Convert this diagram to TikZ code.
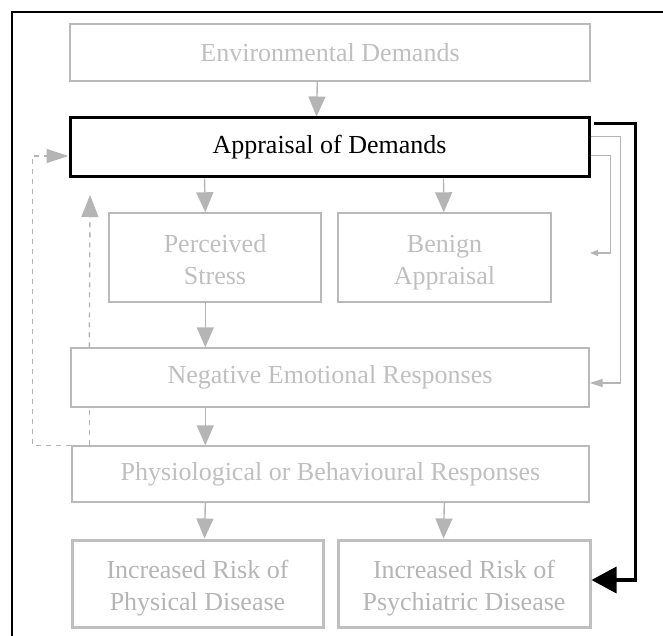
\documentclass[tikz,border=0pt]{standalone}
\usepackage{fontspec}
\setmainfont{Liberation Serif}
\usetikzlibrary{arrows.meta,calc}
\newcommand{\topstrut}{\rule{0pt}{31pt}}
\begin{document}
\begin{tikzpicture}[x=1pt,y=-1pt,
  every node/.style={inner sep=0pt, align=center, font=\fontsize{26}{32}\selectfont},
  box/.style={draw=gray!55, line width=1.4pt, text=gray!50},
  riskbox/.style={draw=gray!50, line width=3pt, text=gray!58},
  mainbox/.style={draw=black, line width=3pt, text=black},
  flow/.style={draw=gray!58, line width=1.4pt, -{Triangle[length=20pt,width=17pt]}},
  fb/.style={draw=gray!58, line width=1.4pt, dash pattern=on 5pt off 5pt},
  loop/.style={draw=gray!58, line width=1.4pt},
  strong/.style={draw=black, line width=3.5pt, -{Triangle[length=25pt,width=26pt]}}
]
\useasboundingbox (0,0) rectangle (663,636);

% outer frame
\draw[line width=2pt] (12,636) -- (12,12) -- (663,12);

% boxes
\node[box, minimum width=520pt, minimum height=57pt] (env) at (330,52.5) {Environmental Demands};
\node[mainbox, minimum width=519pt, minimum height=59pt] (app) at (329.5,147.5) {Appraisal of Demands};
\node[box, minimum width=212pt, minimum height=89pt] (perc) at (215,257.5) {\topstrut Perceived\\Stress\strut};
\node[box, minimum width=213pt, minimum height=89pt] (benign) at (444.5,257.5) {\topstrut Benign\\Appraisal\strut};
\node[box, minimum width=518pt, minimum height=59pt] (neg) at (330,377.5) {Negative Emotional Responses};
\node[box, minimum width=517pt, minimum height=56pt] (phys) at (330.5,474) {Physiological or Behavioural Responses};
\node[riskbox, minimum width=251pt, minimum height=87pt] (riskP) at (197.5,583.5) {\topstrut Increased Risk of\\Physical Disease\strut};
\node[riskbox, minimum width=252pt, minimum height=87pt] (riskS) at (464,583.5) {\topstrut Increased Risk of\\Psychiatric Disease\strut};

% free ends
\coordinate (upend) at (90,195);
\coordinate (loopend) at (590,253);

% downward flow
\draw[flow] ($(env.south west)+(248,0)$) -- ($(app.north west)+(248,0)$);
\draw[flow] ($(app.south west)+(136,0)$) -- ($(perc.north west)+(97,0)$);
\draw[flow] ($(app.south west)+(375,0)$) -- ($(benign.north west)+(106.5,0)$);
\draw[flow] ($(perc.south west)+(97,0)$) -- ($(neg.north west)+(135,0)$);
\draw[flow] ($(neg.south west)+(135,0)$) -- ($(phys.north west)+(134,0)$);
\draw[flow] ($(phys.south west)+(134,0)$) -- ($(riskP.north west)+(134,0)$);
\draw[flow] ($(phys.south west)+(373,0)$) -- ($(riskS.north west)+(107,0)$);

% feedback from responses
\draw[fb] ($(phys.north west)+(18,0)$) -- ($(neg.south west)+(19,0)$);
\draw[fb, -{Triangle[length=22pt,width=17pt]}] ($(neg.north west)+(19,0)$) -- (upend);
\draw[fb, -{Triangle[length=22pt,width=14pt]}] (phys.north west) -- ++(-39,0) |- ($(app.west)+(0,8.5)$);

% right-hand loops
\draw[loop, -{Triangle[length=13pt,width=8pt]}] ($(app.north east)+(0,20)$) -- ++(30,0) |- ($(neg.east)+(0,5.5)$);
\draw[loop, -{Triangle[length=8pt,width=6pt]}] ($(app.north east)+(0,39)$) -- ++(20,0) |- (loopend);

% strong path to psychiatric risk
\draw[strong] ($(app.north east)+(3,7)$) -- ++(42,0) |- ($(riskS.east)+(0,-3.5)$);
\end{tikzpicture}
\end{document}
